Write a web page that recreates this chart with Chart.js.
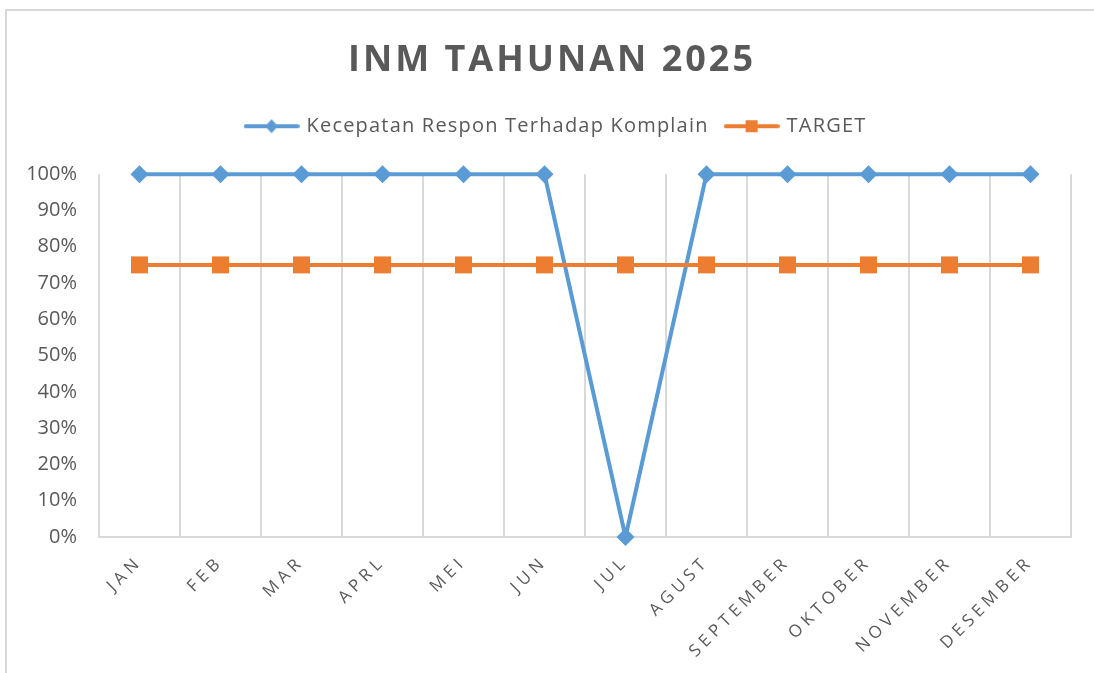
<!DOCTYPE html>
<html>
<head>
<meta charset="utf-8">
<script src="https://cdn.jsdelivr.net/npm/chart.js@4.4.1/dist/chart.umd.min.js"></script>
<style>
html,body{margin:0;padding:0;background:#fff;}
#wrap{width:1094px;height:673px;position:relative;}
</style>
</head>
<body>
<div id="wrap"><canvas id="c" width="1094" height="673"></canvas></div>
<script>
const categories = ["JAN","FEB","MAR","APRL","MEI","JUN","JUL","AGUST","SEPTEMBER","OKTOBER","NOVEMBER","DESEMBER"];
const responValues = [1,1,1,1,1,1,0,1,1,1,1,1];
const targetValues = [0.75,0.75,0.75,0.75,0.75,0.75,0.75,0.75,0.75,0.75,0.75,0.75];
const yTicks = [0,0.1,0.2,0.3,0.4,0.5,0.6,0.7,0.8,0.9,1];
const seriesNames = ["Kecepatan Respon Terhadap Komplain","TARGET"];
const titleText = "INM TAHUNAN 2025";

const BLUE = "#5B9BD5", ORANGE = "#ED7D31", TXT = "#595959", GRID = "#D9D9D9";
const FONT = "'Open Sans', sans-serif";

function legendIcon(color, shape){
  const c = document.createElement('canvas');
  c.width = 56; c.height = 16;
  const g = c.getContext('2d');
  g.strokeStyle = color; g.lineWidth = 4; g.lineCap = 'round';
  g.beginPath(); g.moveTo(2,8); g.lineTo(54,8); g.stroke();
  g.fillStyle = color;
  if (shape === 'diamond'){
    g.beginPath(); g.moveTo(28,1); g.lineTo(34.5,8); g.lineTo(28,15); g.lineTo(21.5,8); g.closePath(); g.fill();
  } else {
    g.fillRect(22,2,12,12);
  }
  return c;
}
const icons = [legendIcon(BLUE,'diamond'), legendIcon(ORANGE,'square')];

const spacer = {
  id: 'spacer',
  beforeInit(chart){
    const box = {
      position: 'top', weight: 0, fullSize: true, options: {},
      left: 0, top: 0, right: 0, bottom: 0, width: 0, height: 0,
      update(maxW){ this.width = maxW; this.height = 28; },
      isHorizontal(){ return true; },
      getPadding(){ return {left:0,right:0,top:0,bottom:0}; },
      draw(){}
    };
    Chart.layouts.addBox(chart, box);
  }
};

const decor = {
  id: 'decor',
  beforeDraw(chart){
    const ctx = chart.ctx;
    ctx.save();
    ctx.strokeStyle = GRID; ctx.lineWidth = 2;
    ctx.beginPath();
    ctx.moveTo(6, 1000); ctx.lineTo(6, 10); ctx.lineTo(2000, 10);
    ctx.stroke();
    ctx.restore();
    const xs = chart.scales.x;
    if (xs && !xs._lsPatched){
      const orig = xs.drawLabels;
      xs.drawLabels = function(a){ const c = this.ctx; c.save(); c.letterSpacing = '4.5px'; orig.call(this,a); c.restore(); };
      xs._lsPatched = true;
    }
    const tb = chart.titleBlock;
    if (tb && !tb._lsPatched){
      const o2 = tb.draw;
      tb.draw = function(){ const c = this.ctx; c.save(); c.translate(11.5,0); c.letterSpacing = '3px'; o2.call(this); c.restore(); };
      tb._lsPatched = true;
    }
    const lg = chart.legend;
    if (lg && !lg._lsPatched){
      const o3 = lg.draw;
      lg.draw = function(){ const c = this.ctx; c.save(); c.translate(-8,0); c.letterSpacing = '1.2px'; o3.call(this); c.restore(); };
      lg._lsPatched = true;
    }
  }
};

new Chart(document.getElementById('c'), {
  type: 'line',
  data: {
    labels: categories,
    datasets: [
      { label: seriesNames[0], data: responValues, borderColor: BLUE, backgroundColor: BLUE,
        borderWidth: 4, pointStyle: 'rectRot', pointRadius: 9, pointBorderWidth: 0,
        tension: 0, order: 1, clip: false },
      { label: seriesNames[1], data: targetValues, borderColor: ORANGE, backgroundColor: ORANGE,
        borderWidth: 4, pointStyle: 'rect', pointRadius: 12, pointBorderWidth: 0,
        tension: 0, order: 0, clip: false }
    ]
  },
  options: {
    responsive: false,
    animation: false,
    layout: { padding: { top: 10, left: 10, right: 23, bottom: 0 } },
    plugins: {
      title: {
        display: true, text: titleText, color: TXT,
        font: { family: FONT, size: 36, weight: 'bold', lineHeight: 1.2 },
        padding: { top: 29, bottom: 16 }
      },
      legend: {
        display: true,
        labels: {
          color: TXT,
          font: { family: FONT, size: 20 },
          usePointStyle: true, pointStyleWidth: 50, padding: 18,
          sort: (a,b) => a.datasetIndex - b.datasetIndex,
          generateLabels(chart){
            const base = Chart.defaults.plugins.legend.labels.generateLabels(chart);
            base.forEach(l => { l.pointStyle = icons[l.datasetIndex]; });
            return base;
          }
        }
      },
      tooltip: { enabled: false }
    },
    scales: {
      x: {
        offset: true,
        grid: { display: true, offset: true, color: GRID, lineWidth: 2, drawTicks: false },
        border: { display: true, color: GRID, width: 2 },
        ticks: { color: TXT, font: { family: FONT, size: 17 },
                 minRotation: 45, maxRotation: 45, padding: 15, autoSkip: false },
        afterFit(s){ s.height = 136; }
      },
      y: {
        min: 0, max: 1,
        afterBuildTicks(s){ s.ticks = yTicks.map(v => ({ value: v })); },
        grid: { display: false, drawTicks: false },
        border: { display: false },
        ticks: { color: TXT, font: { family: FONT, size: 20 }, padding: 22,
                 callback: v => Math.round(v*100) + '%' },
        afterFit(s){ s.width = 89; }
      }
    }
  },
  plugins: [spacer, decor]
});
</script>
</body>
</html>
